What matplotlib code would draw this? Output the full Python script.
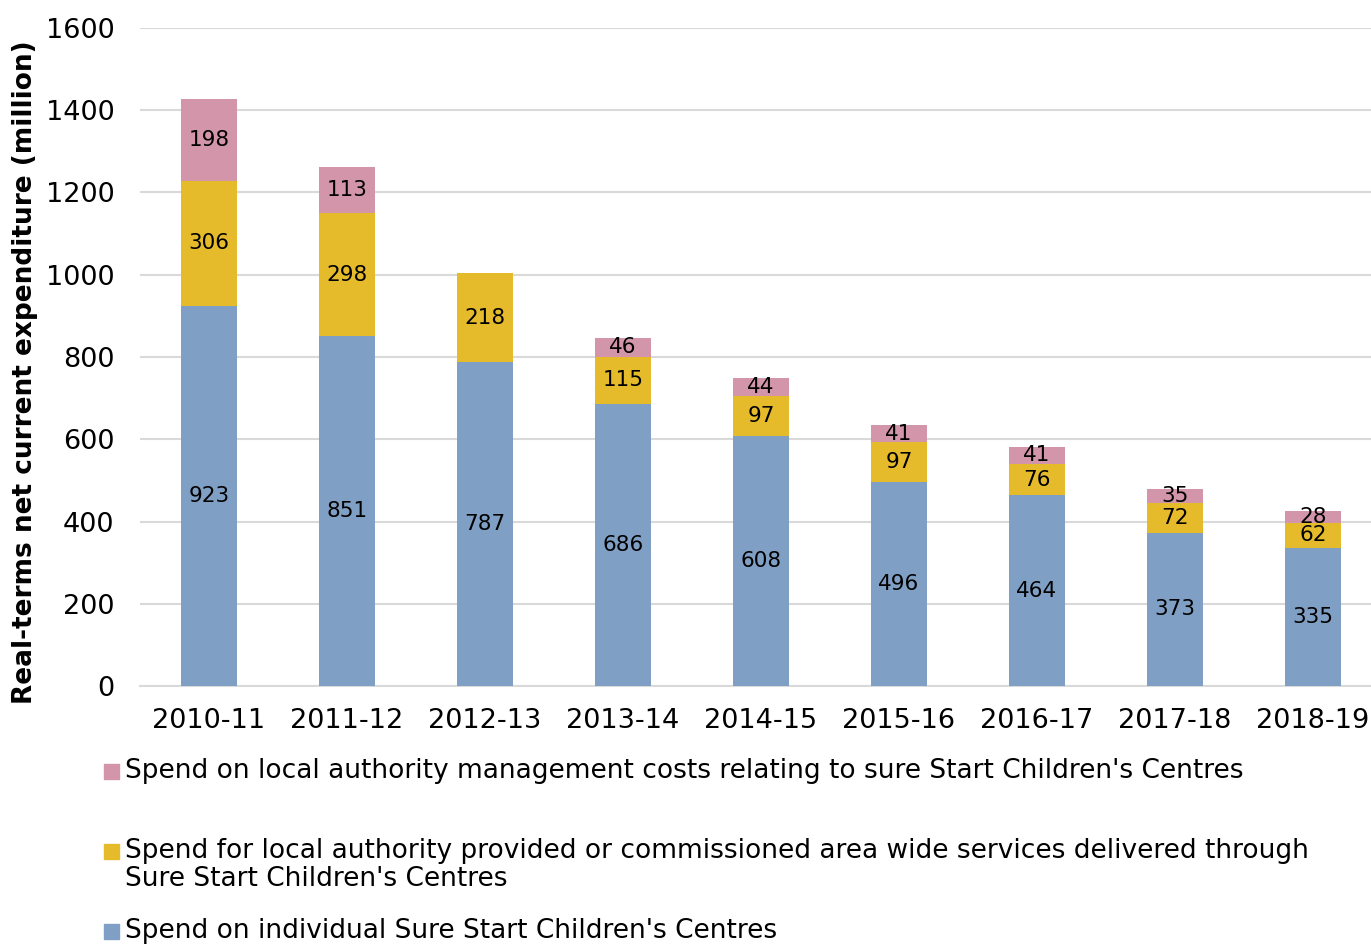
import numpy as np
import matplotlib.pyplot as plt
from matplotlib.patches import Rectangle

years = ["2010-11", "2011-12", "2012-13", "2013-14", "2014-15",
         "2015-16", "2016-17", "2017-18", "2018-19"]
individual = [923, 851, 787, 686, 608, 496, 464, 373, 335]
area_wide = [306, 298, 218, 115, 97, 97, 76, 72, 62]
management = [198, 113, None, 46, 44, 41, 41, 35, 28]

series_labels = [
    "Spend on local authority management costs relating to sure Start Children's Centres",
    "Spend for local authority provided or commissioned area wide services delivered through\nSure Start Children's Centres",
    "Spend on individual Sure Start Children's Centres",
]

c_blue = "#7F9FC4"
c_yellow = "#E6BB2B"
c_pink = "#D395A9"

plt.rcParams['font.family'] = ['DejaVu Sans']

fig = plt.figure(figsize=(13.71, 9.44), dpi=100)
ax = fig.add_axes([140 / 1371, 258 / 944, 1242 / 1371, 658 / 944])

x = np.arange(len(years))
w = 0.4
ind = np.array(individual, dtype=float)
area = np.array(area_wide, dtype=float)
mgmt = np.array([v if v is not None else 0 for v in management], dtype=float)

ax.bar(x, ind, w, color=c_blue, zorder=3)
ax.bar(x, area, w, bottom=ind, color=c_yellow, zorder=3)
ax.bar(x, mgmt, w, bottom=ind + area, color=c_pink, zorder=3)

lab_fs = 15.5
for i in range(len(years)):
    ax.text(x[i], ind[i] / 2, f"{individual[i]}", ha="center", va="center",
            fontsize=lab_fs, zorder=4)
    ax.text(x[i], ind[i] + area[i] / 2, f"{area_wide[i]}", ha="center", va="center",
            fontsize=lab_fs, zorder=4)
    if management[i] is not None:
        ax.text(x[i], ind[i] + area[i] + mgmt[i] / 2, f"{management[i]}",
                ha="center", va="center", fontsize=lab_fs, zorder=4)

ax.set_xlim(-0.5, len(years) - 0.5)
ax.set_ylim(0, 1600)
ax.set_yticks(np.arange(0, 1601, 200))
ax.set_xticks(x)
ax.set_xticklabels(years)
ax.tick_params(axis="both", length=0, labelsize=19.5)
ax.tick_params(axis="x", pad=16)
ax.tick_params(axis="y", pad=18.5)
ax.grid(axis="y", color="#D9D9D9", linewidth=1.5, zorder=0)
for s in ["top", "right", "left"]:
    ax.spines[s].set_visible(False)
ax.spines["bottom"].set_color("#D9D9D9")
ax.spines["bottom"].set_linewidth(1.5)

fig.text(25 / 1371, 1 - 372 / 944, "Real-terms net current expenditure (million)",
         rotation=90, ha="center", va="center", fontsize=19, fontweight="bold")

# Legend drawn as swatches and text below the axes
legend_rows = [(771, c_pink, series_labels[0]),
               (851, c_yellow, series_labels[1]),
               (931, c_blue, series_labels[2])]
for ypix, col, label in legend_rows:
    fig.patches.append(Rectangle((104 / 1371, 1 - (ypix + 8) / 944), 15 / 1371, 15 / 944,
                                 transform=fig.transFigure, color=col))
    fig.text(125 / 1371, 1 - (ypix - 13) / 944, label, ha="left", va="top",
             fontsize=19, linespacing=1.1)

fig.savefig("out.png", dpi=100)
